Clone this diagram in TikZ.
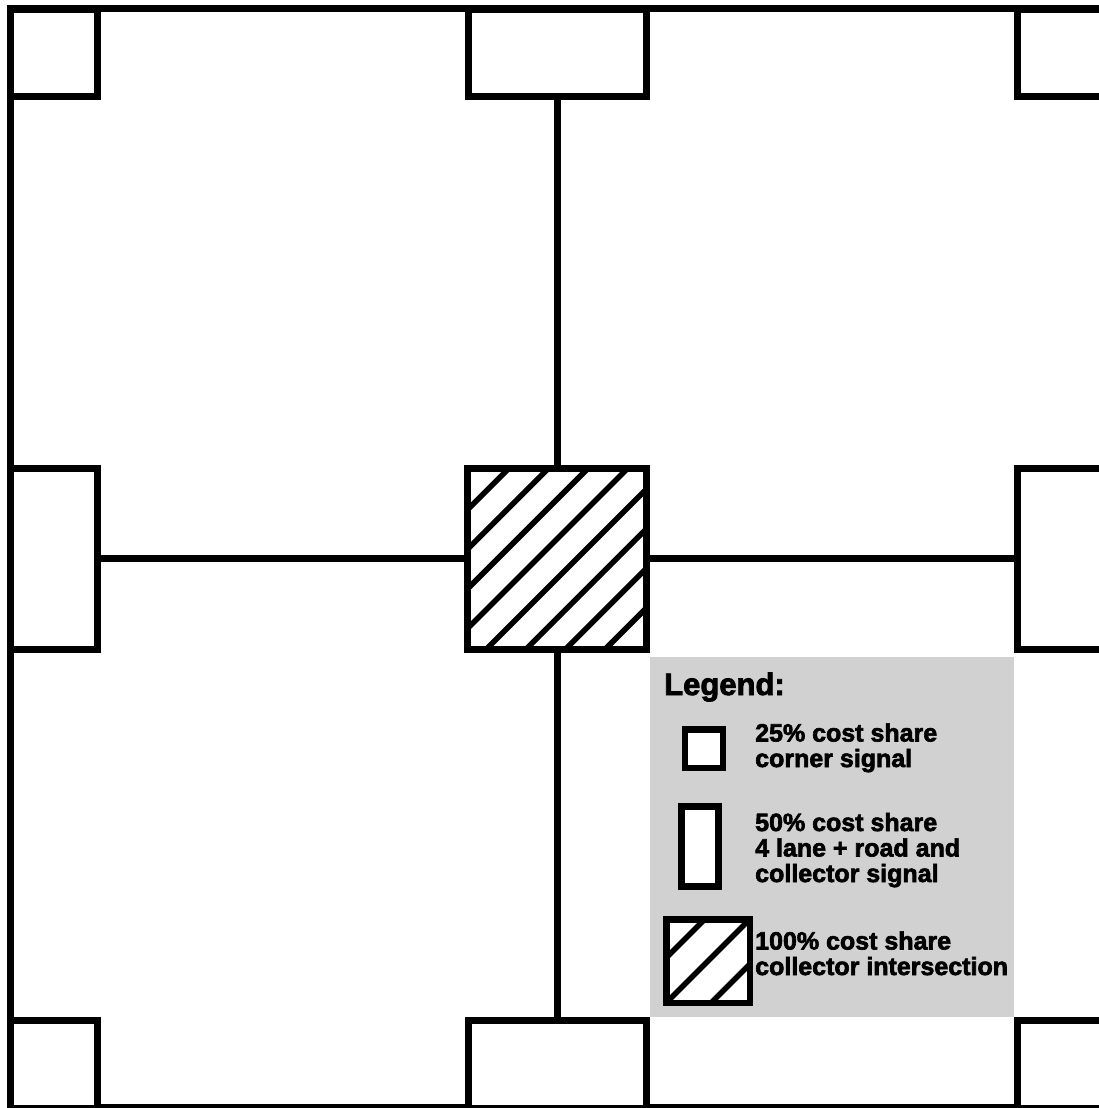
\documentclass[tikz,border=0pt]{standalone}
\usepackage{fontspec}
\setmainfont{Liberation Sans}[BoldFeatures={FakeBold=2.5}]
\usepackage{tikz}
\usetikzlibrary{calc}

\begin{document}
\begin{tikzpicture}[
  x=1pt, y=-1pt,
  font=\bfseries\fontsize{25}{25.5}\selectfont,
  box/.style={draw, line width=7pt, fill=white, inner sep=0pt, outer sep=0pt},
  corner/.style={box, minimum width=87pt, minimum height=87.5pt},
  wide/.style={box, minimum width=178.5pt, minimum height=87.5pt},
  tall/.style={box, minimum width=87pt, minimum height=181pt},
  hatch/.style n args={3}{path picture={
      \foreach \k in {#1}
        \draw[line width=#2] ($(path picture bounding box.center)+(\k pt,0pt)$)
          +(-#3pt,-#3pt) -- +(#3pt,#3pt);}},
  road/.style={line width=6.5pt},
  legbox/.style={box, line width=6.5pt},
  lbl/.style={anchor=base west, align=left, inner sep=0pt},
]
\useasboundingbox (0,0) rectangle (1099,1108);
\clip (0,0) rectangle (1099,1108);

% legend backdrop and outer boundary
\fill[black!18] (650,657) rectangle (1014,1017);
\draw[line width=7pt] (10,9) rectangle (1104,1107);

% signals
\node[corner] (tl) at (53.5,53) {};
\node[wide]   (tm) at (557.25,53) {};
\node[corner] (tr) at (1060.5,53) {};
\node[tall]   (ml) at (53.5,558.5) {};
\node[box, minimum width=179pt, minimum height=181pt,
      hatch={-138.6,-99,-59.4,-19.8,19.8,59.4,99,138.6}{5.5pt}{200}] (ctr) at (557.25,558.5) {};
\node[tall]   (mr) at (1060.5,558.5) {};
\node[corner] (bl) at (53.5,1064.5) {};
\node[wide]   (bm) at (557.25,1064.5) {};
\node[corner] (br) at (1060.5,1064.5) {};

\draw[road] (tm) -- (ctr);
\draw[road] (ml) -- (ctr);
\draw[road] (ctr) -- (mr);
\draw[road] (ctr) -- (bm);

% legend (base anchor sits on the last line)
\node[lbl, font=\bfseries\fontsize{31}{32}\selectfont] (leg) at (664,695) {Legend:};
\node[legbox, minimum width=38pt, minimum height=38.7pt] (k1) at (704,748.7) {};
\node[legbox, minimum width=36.6pt, minimum height=80pt] (k2) at (700,846.7) {};
\node[legbox, minimum width=83.5pt, minimum height=83.5pt,
      hatch={-45,0,45}{5.5pt}{100}] (k3) at (708,961) {};
\node[lbl] (t1) at (755,767) {25\% cost share\\corner signal};
\node[lbl] (t2) at (755,882) {50\% cost share\\4 lane + road and\\collector signal};
\node[lbl] (t3) at (755,975) {100\% cost share\\collector intersection};
\end{tikzpicture}
\end{document}
